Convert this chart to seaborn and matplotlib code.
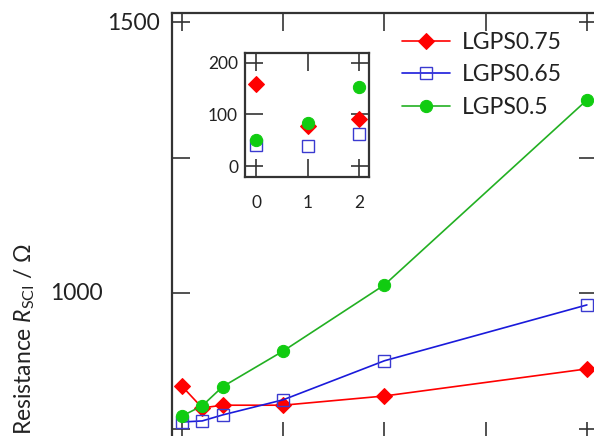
import matplotlib
matplotlib.use("Agg")
import matplotlib.pyplot as plt
import pandas as pd
import seaborn as sns

# main panel data
x_vals = [0, 0.2, 0.4, 1, 2, 4]
series_names = ["LGPS0.75", "LGPS0.65", "LGPS0.5"]
r_075 = [828, 788, 793, 793, 810, 860]
r_065 = [762, 764, 775, 803, 875, 978]
r_05 = [773, 792, 827, 893, 1015, 1356]

# inset data
inset_x = [0, 1, 2]
inset_075 = [159, 78, 91]
inset_065 = [40, 39, 62]
inset_05 = [50, 84, 153]

y_ticks = [750, 1000, 1250, 1500]
inset_yticks = [0, 100, 200]

styles = {
    "LGPS0.75": dict(color="#ff0000", marker="D", markersize=7.8, markerfacecolor="#ff0000",
                     markeredgecolor="#ff0000"),
    "LGPS0.65": dict(color="#1a1adb", marker="s", markersize=9.0, markerfacecolor="none",
                     markeredgecolor="#3a3ad0", markeredgewidth=1.0),
    "LGPS0.5": dict(color="#22b022", marker="o", markersize=8.8, markerfacecolor="#11cc11",
                    markeredgecolor="#11cc11"),
}

main_df = pd.DataFrame({
    "x": x_vals * 3,
    "R": r_075 + r_065 + r_05,
    "sample": sum([[n] * len(x_vals) for n in series_names], []),
})
inset_df = pd.DataFrame({
    "x": inset_x * 3,
    "R": inset_075 + inset_065 + inset_05,
    "sample": sum([[n] * len(inset_x) for n in series_names], []),
})

sns.set_theme(style="ticks")
plt.rcParams["font.family"] = ["Lato", "DejaVu Sans"]
plt.rcParams["mathtext.fontset"] = "custom"
plt.rcParams["mathtext.rm"] = "Lato"
plt.rcParams["mathtext.it"] = "Lato:italic"

W, H = 594, 436
fig = plt.figure(figsize=(W / 100, H / 100), dpi=100)


def px_box(left, top, right, bottom):
    return [left / W, 1 - bottom / H, (right - left) / W, (bottom - top) / H]


def style_axes(ax):
    for sp in ax.spines.values():
        sp.set_linewidth(1.6)
        sp.set_color("#333333")
    ax.tick_params(direction="in", length=13, width=1.2, color="#333333",
                   top=True, right=True, labelcolor="#222222")


ax = fig.add_axes(px_box(172, 13, 597, 440))
for name in series_names:
    sub = main_df[main_df["sample"] == name]
    sns.lineplot(data=sub, x="x", y="R", ax=ax, linewidth=1.2, label=name, **styles[name])

ax.set_xlim(-0.099, 4.10)
ax.set_ylim(728.8, 1516.6)
ax.set_xticks([0, 1, 2, 3, 4])
ax.set_yticks(y_ticks)
ax.set_yticklabels(["", "", "", "1500"], fontsize=16.5)
style_axes(ax)
ax.tick_params(axis="y", pad=9)
ax.tick_params(axis="x", labelbottom=False)
ax.set_xlabel("")
ax.set_ylabel("")
ax.annotate("1000", xy=(0, 1000), xycoords=ax.get_yaxis_transform(),
            xytext=(-69, 0), textcoords="offset pixels", ha="right", va="center",
            fontsize=16.5, color="#222222")

fig.text(25 / W, 1 - 243 / H, r"Resistance $R_{\mathrm{SCI}}$ / Ω", rotation=90,
         ha="center", va="top", fontsize=16.5, color="#222222")

leg = ax.legend(loc="upper left", bbox_to_anchor=(402 / W, 1 - 32 / H),
                bbox_transform=fig.transFigure, frameon=False, fontsize=16.5,
                handlelength=2.1, handletextpad=0.5, labelspacing=0.5, borderpad=0,
                borderaxespad=0)
for t in leg.get_texts():
    t.set_color("#222222")

ins = fig.add_axes(px_box(245, 53, 369, 177))
for name in series_names:
    sub = inset_df[inset_df["sample"] == name]
    sns.lineplot(data=sub, x="x", y="R", ax=ins, linestyle="none", legend=False, **styles[name])
ins.set_xlim(-0.22, 2.2)
ins.set_ylim(-21, 219)
ins.set_xticks(inset_x)
ins.set_yticks(inset_yticks)
ins.set_xlabel("")
ins.set_ylabel("")
style_axes(ins)
ins.tick_params(labelsize=12.5)
ins.tick_params(axis="x", pad=13)
ins.tick_params(axis="y", pad=5)

fig.savefig("out.png", dpi=100)
